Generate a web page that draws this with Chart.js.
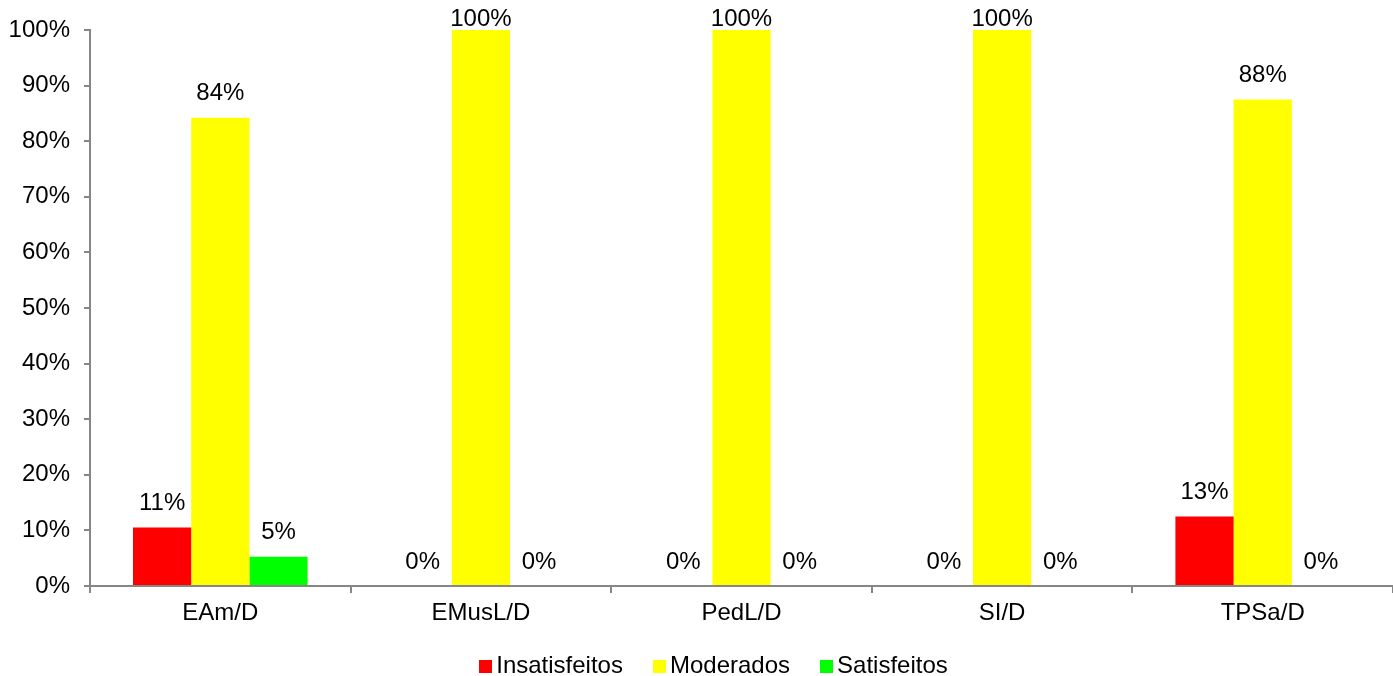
<!DOCTYPE html>
<html>
<head>
<meta charset="utf-8">
<script src="https://cdn.jsdelivr.net/npm/chart.js@4"></script>
<style>
  html, body { margin: 0; padding: 0; background: #fff; overflow: hidden; }
  #wrap { width: 1393px; height: 676px; position: relative; }
  #legend {
    position: absolute; left: 0; right: 0; top: 653px;
    display: flex; justify-content: center; gap: 30px;
    font: 24px 'Liberation Sans', Arial, sans-serif; color: #000; line-height: 24px;
    padding-left: 34px;
  }
  #legend .item { display: flex; align-items: center; }
  #legend .sw { width: 13px; height: 13px; margin-right: 4px; margin-top: 2px; }
</style>
</head>
<body>
<div id="wrap"><canvas id="c"></canvas><div id="legend"></div></div>
<script>
const categories = ['EAm/D', 'EMusL/D', 'PedL/D', 'SI/D', 'TPSa/D'];
const insatisfeitos = [10.53, 0, 0, 0, 12.5];
const moderados = [84.21, 100, 100, 100, 87.5];
const satisfeitos = [5.26, 0, 0, 0, 0];
const yTicks = [0, 10, 20, 30, 40, 50, 60, 70, 80, 90, 100];

const FONT = "'Liberation Sans', Arial, sans-serif";
const AXIS = '#868686';

// value labels above each bar, kept inside the top of the canvas
const barLabels = {
  id: 'barLabels',
  afterDatasetsDraw(chart) {
    const ctx = chart.ctx;
    ctx.save();
    ctx.font = '24px ' + FONT;
    ctx.fillStyle = '#000';
    ctx.textAlign = 'center';
    ctx.textBaseline = 'middle';
    chart.data.datasets.forEach((ds, i) => {
      chart.getDatasetMeta(i).data.forEach((bar, j) => {
        const y = Math.max(bar.y - 24, 19);
        ctx.fillText(Math.round(ds.data[j]) + '%', bar.x, y);
      });
    });
    ctx.restore();
  }
};

const chart = new Chart(document.getElementById('c'), {
  type: 'bar',
  data: {
    labels: categories,
    datasets: [
      { label: 'Insatisfeitos', data: insatisfeitos, backgroundColor: '#FF0000' },
      { label: 'Moderados', data: moderados, backgroundColor: '#FFFF00' },
      { label: 'Satisfeitos', data: satisfeitos, backgroundColor: '#00FF00' }
    ]
  },
  options: {
    responsive: true,
    maintainAspectRatio: false,
    animation: false,
    categoryPercentage: 0.67,
    barPercentage: 1,
    layout: { padding: { top: 30, right: 0, left: 0, bottom: 32 } },
    plugins: {
      tooltip: { enabled: false },
      legend: { display: false }
    },
    scales: {
      x: {
        afterFit(axis) { axis.height = 58; },
        border: { color: AXIS, width: 2 },
        grid: { drawOnChartArea: false, color: AXIS, tickLength: 7, lineWidth: 2 },
        ticks: { font: { family: FONT, size: 24 }, color: '#000', padding: 6 }
      },
      y: {
        min: 0,
        max: 100,
        afterFit(axis) { axis.width = 90; },
        afterBuildTicks(axis) { axis.ticks = yTicks.map(v => ({ value: v })); },
        border: { color: AXIS, width: 2 },
        grid: { drawOnChartArea: false, color: AXIS, tickLength: 6, lineWidth: 2 },
        ticks: {
          font: { family: FONT, size: 24 },
          color: '#000',
          padding: 14,
          callback: v => v + '%'
        }
      }
    }
  },
  plugins: [barLabels]
});

// legend built from the chart's datasets
const legend = document.getElementById('legend');
chart.data.datasets.forEach(ds => {
  const item = document.createElement('div');
  item.className = 'item';
  const sw = document.createElement('span');
  sw.className = 'sw';
  sw.style.background = ds.backgroundColor;
  const txt = document.createElement('span');
  txt.textContent = ds.label;
  item.append(sw, txt);
  legend.appendChild(item);
});
</script>
</body>
</html>
